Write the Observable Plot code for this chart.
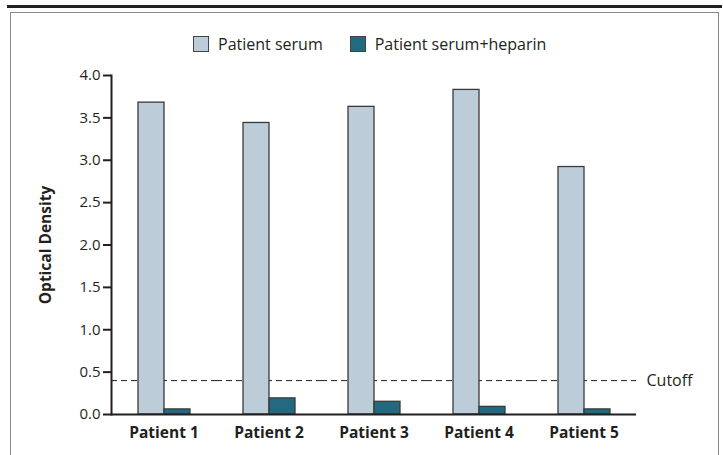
<!DOCTYPE html>
<html><head><meta charset="utf-8">
<script src="https://cdn.jsdelivr.net/npm/d3@7"></script>
<script src="https://cdn.jsdelivr.net/npm/@observablehq/plot@0.6"></script>
<style>
body{margin:0;background:#fff;font-family:"Open Sans",sans-serif;color:#231f20;}
#wrap{position:relative;width:723px;height:455px;overflow:hidden;background:#fff;}
#topline{position:absolute;left:7px;top:5px;width:715px;height:3px;background:#231f20;}
#box{position:absolute;left:10px;top:12px;width:709px;height:470px;border:1.5px solid #8a8a8a;box-sizing:border-box;}
#legend{position:absolute;left:193px;top:33px;display:flex;align-items:center;font-size:16px;white-space:nowrap;}
#legend .item{display:flex;align-items:center;margin-right:27px;}
#legend .sw{width:16px;height:16px;border:1px solid #444;box-sizing:border-box;margin-right:9px;}
#chart{position:absolute;left:0;top:60px;}
</style></head>
<body>
<div id="wrap">
  <div id="topline"></div>
  <div id="box"></div>
  <div id="legend"></div>
  <div id="chart"></div>
</div>
<script>
const patients = ["Patient 1", "Patient 2", "Patient 3", "Patient 4", "Patient 5"];
const series = ["Patient serum", "Patient serum+heparin"];
const serum = [3.68, 3.44, 3.63, 3.83, 2.92];
const heparin = [0.06, 0.19, 0.15, 0.09, 0.06];
const yTicks = [0, 0.5, 1.0, 1.5, 2.0, 2.5, 3.0, 3.5, 4.0];
const cutoff = 0.4;
const cutoffLabel = "Cutoff";
const yTitle = "Optical Density";
const colors = ["#bccdd9", "#236a80"];

const data = patients.flatMap((p, i) => [
  {patient: p, series: series[0], value: serum[i]},
  {patient: p, series: series[1], value: heparin[i]}
]);

// legend
const legend = document.getElementById("legend");
series.forEach((s, i) => {
  const it = document.createElement("div");
  it.className = "item";
  const sw = document.createElement("div");
  sw.className = "sw";
  sw.style.background = colors[i];
  const t = document.createElement("span");
  t.textContent = s;
  it.appendChild(sw); it.appendChild(t);
  legend.appendChild(it);
});

const chart = Plot.plot({
  width: 723,
  height: 395,
  marginTop: 15,
  marginBottom: 41,
  marginLeft: 110,
  marginRight: 86,
  style: {fontFamily: "'Open Sans', sans-serif", fontSize: "15px", color: "#231f20", background: "transparent"},
  fx: {domain: patients, padding: 0, label: null},
  x: {domain: series, paddingInner: 0, paddingOuter: 1, axis: null},
  y: {domain: [0, 4], label: null},
  color: {domain: series, range: colors},
  marks: [
    Plot.ruleY([cutoff], {stroke: "#231f20", strokeDasharray: "6,4", strokeWidth: 1}),
    Plot.barY(data, {fx: "patient", x: "series", y: "value", fill: "series", stroke: "#3a3a3a", strokeWidth: 1.3}),
    Plot.ruleY([0], {stroke: "#231f20", strokeWidth: 2}),
    Plot.frame({anchor: "left", facetAnchor: "left", stroke: "#231f20", strokeWidth: 2}),
    Plot.axisY({ticks: yTicks, tickFormat: d => d.toFixed(1), tickSize: 8, tickPadding: 3, stroke: "#231f20", strokeWidth: 2, fontSize: 15, label: null}),
    Plot.axisFx({anchor: "bottom", tickSize: 0, tickPadding: 12, fontWeight: "bold", fontSize: 15.5, label: null}),
    Plot.text([cutoffLabel], {fx: [patients[patients.length - 1]], y: [cutoff], frameAnchor: "right", dx: 10, textAnchor: "start", fontSize: 16}),
    Plot.text([yTitle], {fx: [patients[0]], frameAnchor: "left", textAnchor: "middle", rotate: -90, dx: -65, fontWeight: "bold", fontSize: 15.5})
  ]
});
document.getElementById("chart").appendChild(chart);
</script>
</body></html>
